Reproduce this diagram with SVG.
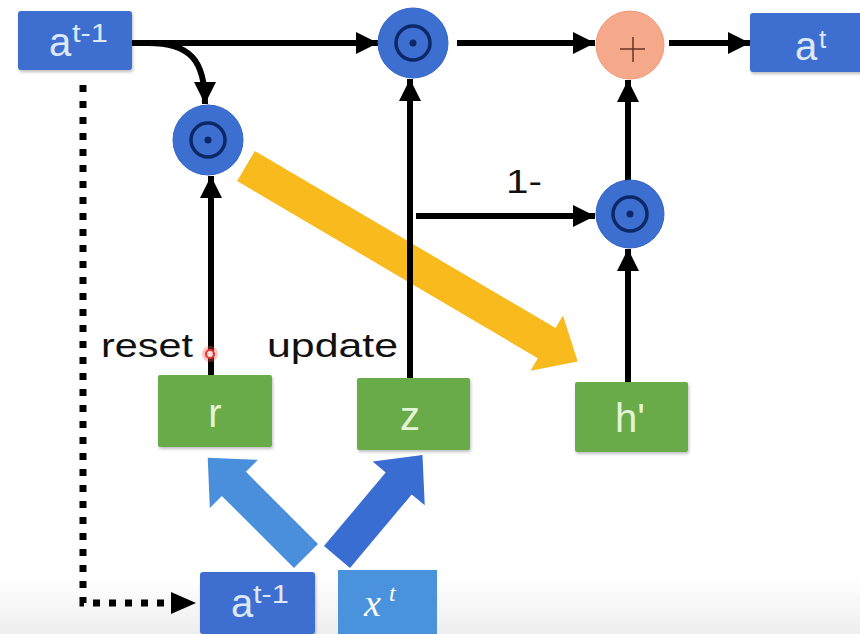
<svg xmlns="http://www.w3.org/2000/svg" width="860" height="634" viewBox="0 0 860 634">
<defs>
<style>
.ln{stroke:#000;stroke-width:6;fill:none}
.box-b{fill:#3C6ED0}
.box-g{fill:#6AAB48}
.lbl-b{font-family:"Liberation Sans",Arial,sans-serif;fill:#DDE8F7}
.lbl-g{font-family:"Liberation Sans",Arial,sans-serif;fill:#E4F4D6;font-size:40px;text-anchor:middle}
.txt{font-family:"Liberation Sans",Arial,sans-serif;fill:#111;font-size:34px}
.op{fill:#3D6FD1;stroke:#3464C4;stroke-width:1}
.ring{fill:none;stroke:#0C2866;stroke-width:3.5}
.dot{fill:#0C2866}
</style>
<marker id="ah" markerUnits="userSpaceOnUse" markerWidth="24" markerHeight="22" refX="22" refY="11" orient="auto">
<path d="M0,0 L22,11 L0,22 z" fill="#000"/>
</marker>
<linearGradient id="bot" x1="0" y1="0" x2="0" y2="1">
<stop offset="0" stop-color="#ffffff"/>
<stop offset="1" stop-color="#eeeeee"/>
</linearGradient>
<filter id="sh" x="-10%" y="-10%" width="125%" height="130%">
<feDropShadow dx="1" dy="2" stdDeviation="1.5" flood-color="#000" flood-opacity="0.25"/>
</filter>
</defs>
<rect width="860" height="634" fill="#fff"/>
<rect x="0" y="578" width="860" height="56" fill="url(#bot)"/>

<g id="connectors">
<polygon id="yellow-arrow" points="0,-17.5 349,-17.5 349,-32 385,0 349,32 349,17.5 0,17.5" fill="#F8BA1C" transform="translate(246,166) rotate(30.5)"/>
<polygon id="blue-arrow-r" points="0,-17 102,-17 102,-34 139,0 102,34 102,17 0,17" fill="#4A8FDB" transform="translate(306,556) rotate(-135)"/>
<polygon id="blue-arrow-z" points="0,-17 96,-17 96,-34 133,0 96,34 96,17 0,17" fill="#3A6DD1" transform="translate(337,557) rotate(-50)"/>
<path class="ln" d="M132,43 L378,43" marker-end="url(#ah)"/>
<path class="ln" d="M148,43 C190,43 205,60 205,104" marker-end="url(#ah)"/>
<path class="ln" d="M457,43 L595,43" marker-end="url(#ah)"/>
<path class="ln" d="M669,43 L750,43" marker-end="url(#ah)"/>
<path class="ln" d="M410,378 L410,79" marker-end="url(#ah)"/>
<path class="ln" d="M416,216 L595,216" marker-end="url(#ah)"/>
<path class="ln" d="M628,181 L628,80" marker-end="url(#ah)"/>
<path class="ln" d="M628,382 L628,249" marker-end="url(#ah)"/>
<path class="ln" d="M211,375 L211,176" marker-end="url(#ah)"/>
<path d="M83,85 L83,603 L172,603" fill="none" stroke="#000" stroke-width="7" stroke-dasharray="7 9"/>
<polygon points="171,592 196,603 171,614" fill="#000"/>
</g>

<g id="a-prev-top">
<rect class="box-b" x="18" y="11" width="114" height="59" rx="3" filter="url(#sh)"/>
<text class="lbl-b" x="49" y="56" font-size="40">a</text>
<text class="lbl-b" x="72" y="42" font-size="26" textLength="36" lengthAdjust="spacingAndGlyphs">t-1</text>
</g>

<g id="mul-top">
<circle class="op" cx="413" cy="43" r="35"/>
<circle class="ring" cx="413" cy="43" r="17"/>
<circle class="dot" cx="413" cy="43" r="3.5"/>
</g>

<g id="plus">
<circle cx="630" cy="45" r="34" fill="#F6A88A" stroke="#F19A7A" stroke-width="1"/>
<path d="M620,49 L645,49 M633,37 L633,62" stroke="#6B3326" stroke-width="1.5" fill="none"/>
</g>

<g id="a-t">
<rect class="box-b" x="750" y="13" width="116" height="59" rx="3" filter="url(#sh)"/>
<text class="lbl-b" x="795" y="60" font-size="40">a</text>
<text class="lbl-b" x="819" y="48" font-size="26">t</text>
</g>

<g id="mul-reset">
<circle class="op" cx="208" cy="140" r="35"/>
<circle class="ring" cx="208" cy="140" r="17"/>
<circle class="dot" cx="208" cy="140" r="3.5"/>
</g>

<g id="mul-low">
<circle class="op" cx="630" cy="214" r="34"/>
<circle class="ring" cx="630" cy="214" r="17"/>
<circle class="dot" cx="630" cy="214" r="3.5"/>
</g>

<g id="label-1minus">
<text class="txt" x="506" y="193" textLength="36" lengthAdjust="spacingAndGlyphs">1-</text>
</g>

<g id="label-reset">
<text class="txt" x="101" y="357" textLength="92" lengthAdjust="spacingAndGlyphs">reset</text>
<circle cx="210" cy="354" r="8" fill="#FF5A5A" opacity="0.35"/>
<circle cx="210" cy="354" r="4" fill="#FFE0E0" stroke="#E53935" stroke-width="2.2"/>
</g>

<g id="label-update">
<text class="txt" x="267" y="357" textLength="131" lengthAdjust="spacingAndGlyphs">update</text>
</g>

<g id="r">
<rect class="box-g" x="158" y="375" width="114" height="72" rx="2" filter="url(#sh)"/>
<text class="lbl-g" x="215" y="427">r</text>
</g>

<g id="z">
<rect class="box-g" x="357" y="378" width="113" height="72" rx="2" filter="url(#sh)"/>
<text class="lbl-g" x="410" y="430">z</text>
</g>

<g id="h">
<rect class="box-g" x="575" y="382" width="113" height="70" rx="2" filter="url(#sh)"/>
<text class="lbl-g" x="630" y="432">h'</text>
</g>

<g id="a-prev-bottom">
<rect class="box-b" x="200" y="572" width="115" height="62" rx="3" filter="url(#sh)"/>
<text class="lbl-b" x="231" y="617" font-size="40">a</text>
<text class="lbl-b" x="253" y="603" font-size="26" textLength="36" lengthAdjust="spacingAndGlyphs">t-1</text>
</g>

<g id="x-t">
<rect x="338" y="570" width="99" height="64" fill="#4A92DC"/>
<text x="364" y="616" font-family="'Liberation Serif','Times New Roman',serif" font-style="italic" font-size="38" fill="#fff">x</text>
<text x="389" y="601" font-family="'Liberation Serif','Times New Roman',serif" font-style="italic" font-size="24" fill="#fff">t</text>
</g>
</svg>
